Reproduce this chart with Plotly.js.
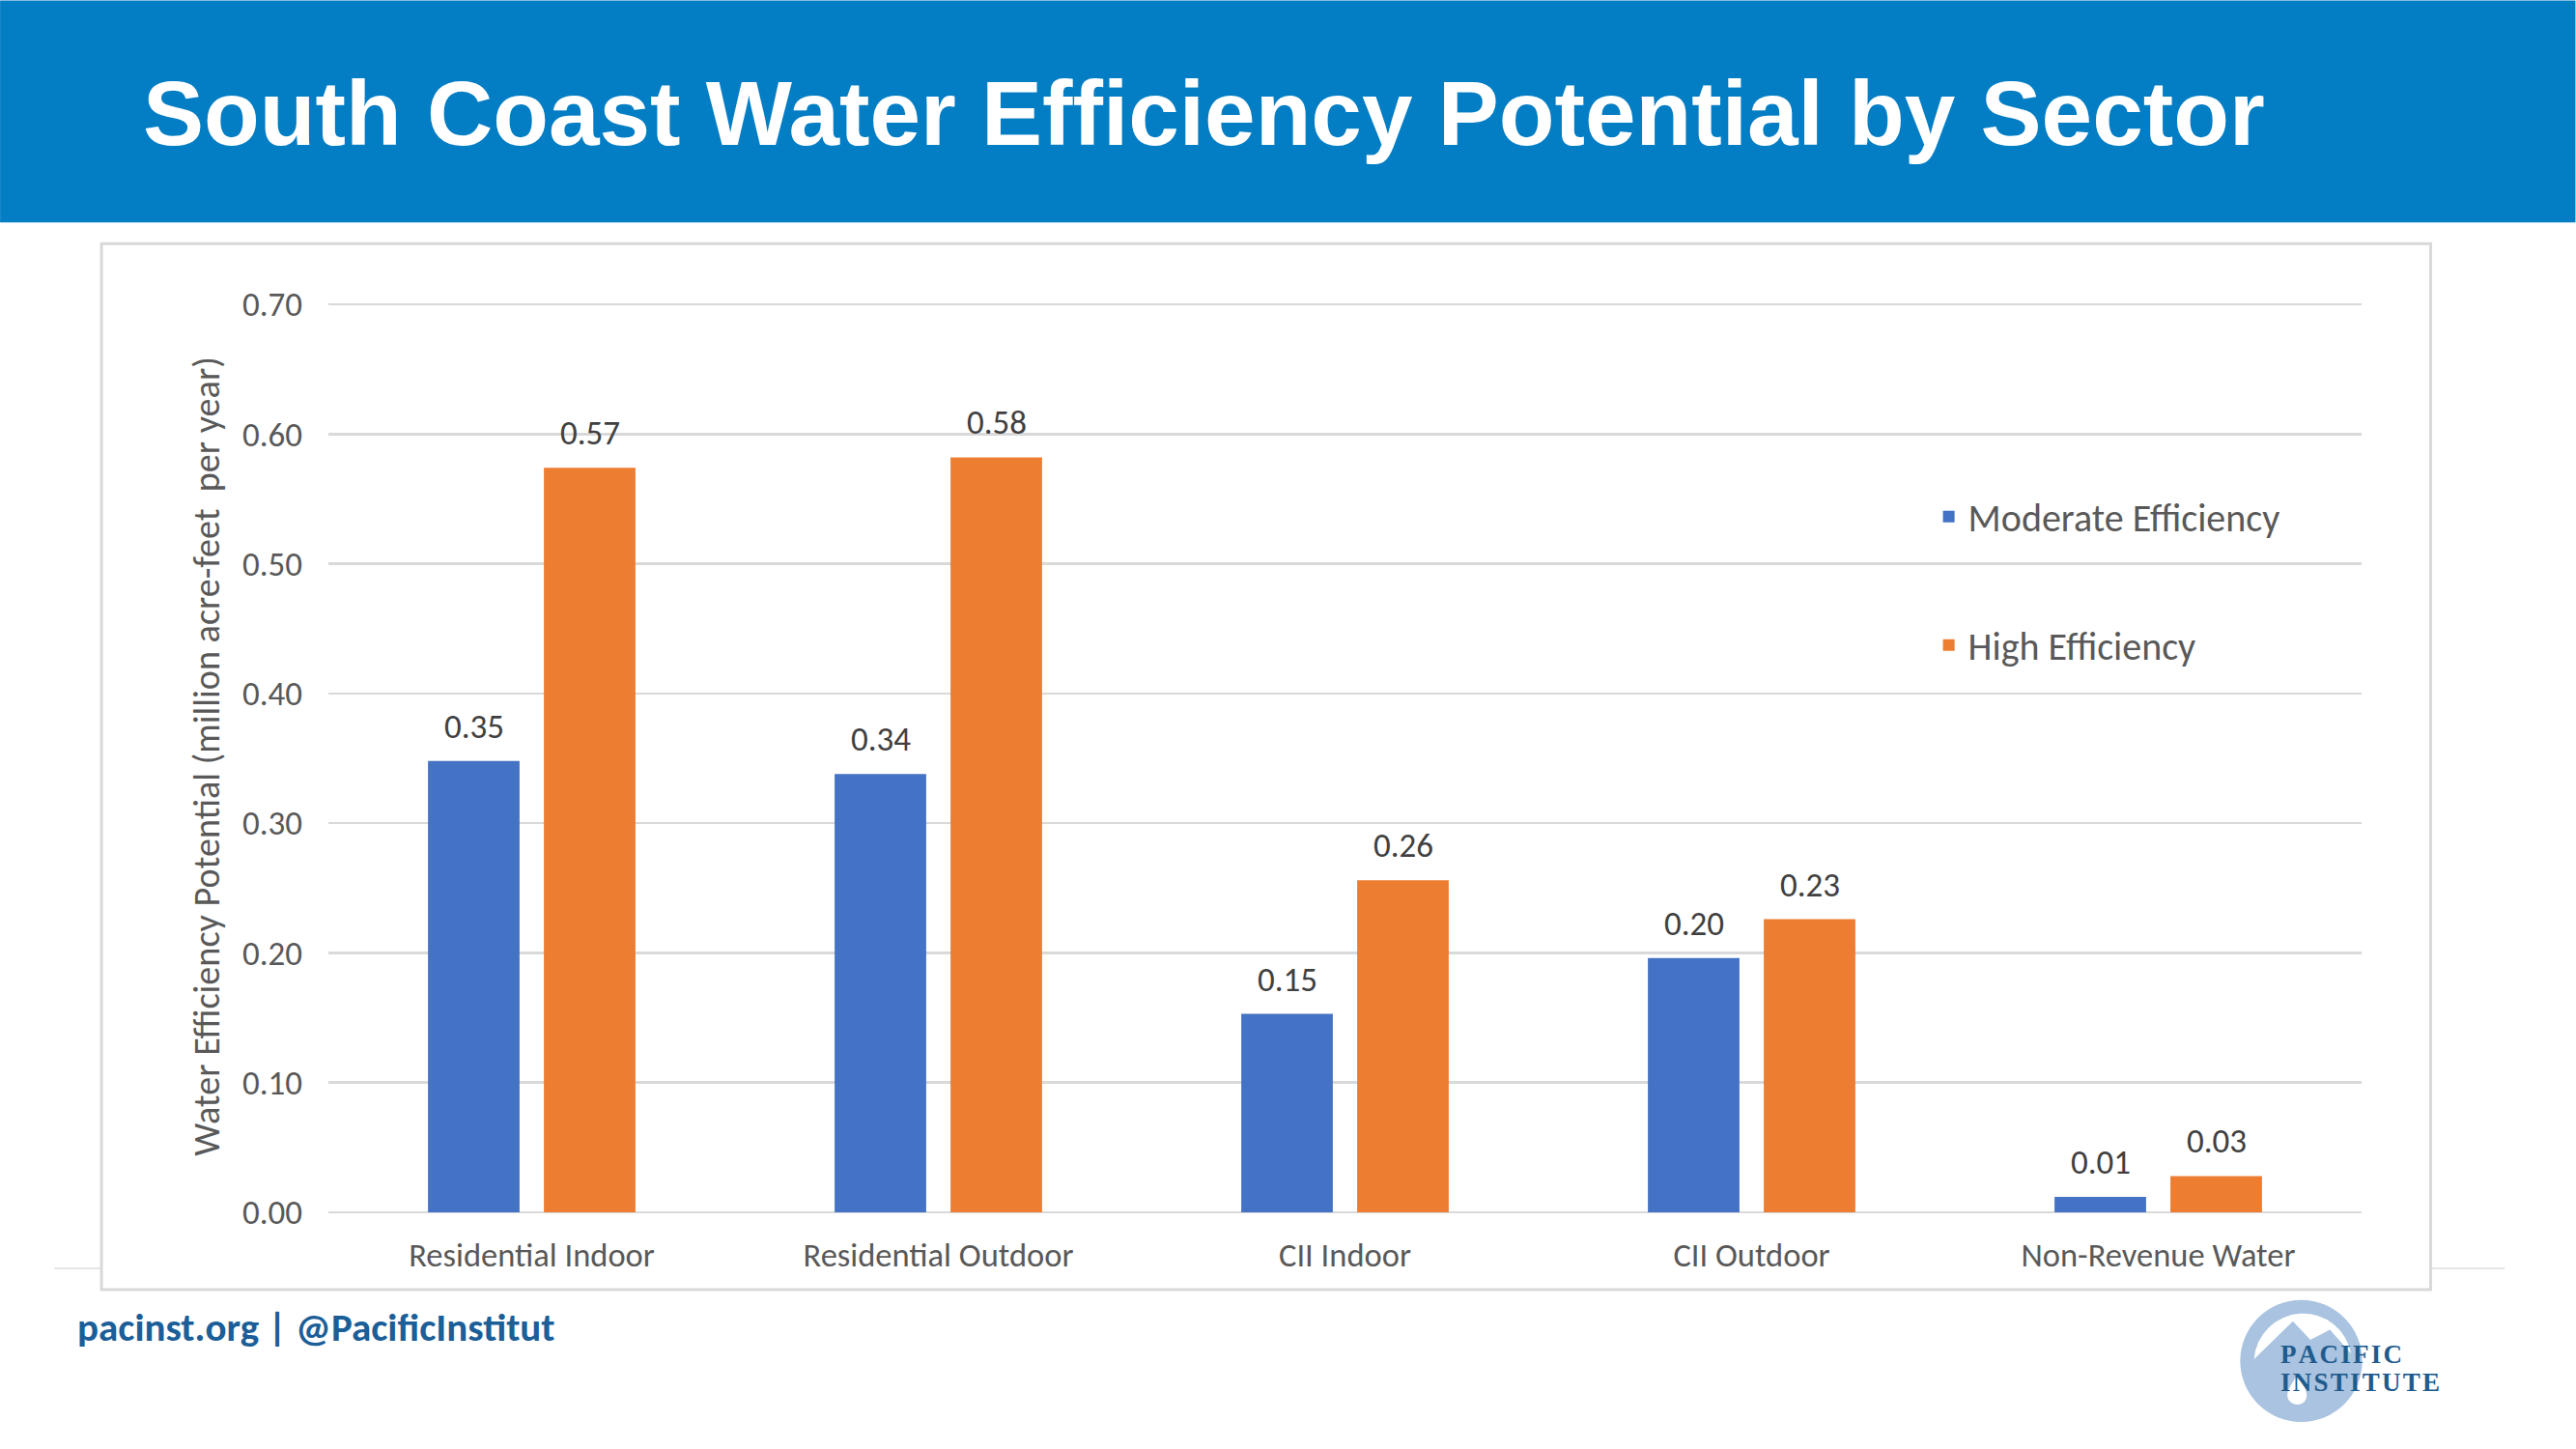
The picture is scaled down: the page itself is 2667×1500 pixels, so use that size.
<!DOCTYPE html>
<html>
<head>
<meta charset="utf-8">
<script src="https://cdn.plot.ly/plotly-3.0.1.min.js"></script>
<style>
  html, body { margin: 0; padding: 0; background: #ffffff; }
  #chart { width: 2667px; height: 1500px; }
</style>
</head>
<body>
<div id="chart"></div>
<script>
// values (million acre-feet per year)
const sectors = ["Residential Indoor", "Residential Outdoor", "CII Indoor", "CII Outdoor", "Non-Revenue Water"];
const moderate = [0.348, 0.338, 0.153, 0.196, 0.012];
const high = [0.574, 0.582, 0.256, 0.226, 0.028];
const yTicks = [0, 0.1, 0.2, 0.3, 0.4, 0.5, 0.6, 0.7];

const W = 2667, H = 1500;
// range runs a hair past 0.70 so the top gridline is not clipped
const Y_MAX = 0.703;
const M = { l: 340, r: 221.5, t: 1255 - Y_MAX * 1343.3, b: 245 };
const PW = W - M.l - M.r, PH = H - M.t - M.b;

// slide pixels -> paper coordinates (for decoration only)
const px = x => (x - M.l) / PW;
const py = y => (H - M.b - y) / PH;

const FONT = "Carlito, Lato, 'Open Sans', sans-serif";
const SERIF = "'Liberation Serif', 'DejaVu Serif', serif";
const BLUE = "#4472C4", ORANGE = "#ED7D31";

// spread the logo letters a little
const spaced = s => s.split("").join("\u200A");

function barTrace(name, values, color) {
    return {
        type: "bar", name, x: sectors, y: values,
        legendgroup: name,
        marker: { color },
        hoverinfo: "x+y+name"
    };
}

// value labels above each bar, offset to its slot in the group
function valueLabels(values, shift) {
    return values.map((v, i) => ({
        x: sectors[i], y: v, xref: "x", yref: "y",
        text: v.toFixed(2), showarrow: false,
        xshift: shift, yshift: 36, yanchor: "middle",
        font: { family: FONT, size: 35, color: "#404040" }
    }));
}

const logoSvg =
    "<svg xmlns='http://www.w3.org/2000/svg' width='140' height='140' viewBox='0 0 140 140'>" +
    "<circle cx='70' cy='70' r='66' fill='#a9c3e0'/>" +
    "<path d='M19,68 L61,27 L80,47 L101,36 L124,62 A53,53 0 0 0 19,68 Z' fill='#ffffff'/>" +
    "<path d='M66,84 C60,95 55,101 55,107 C55,113 60,117 66,117 C72,117 76,113 76,107 C76,101 71,95 66,84 Z' fill='#ffffff'/>" +
    "</svg>";

const layout = {
    width: W, height: H,
    margin: M,
    paper_bgcolor: "#ffffff",
    plot_bgcolor: "rgba(0,0,0,0)",
    font: { family: FONT, color: "#595959", size: 34 },
    title: {
        text: "South Coast Water Efficiency Potential by Sector",
        xref: "container", yref: "container",
        x: 148 / W, xanchor: "left",
        y: 1 - 117 / H, yanchor: "middle",
        font: { family: "'Liberation Sans', Arial, sans-serif", size: 94.5, color: "#ffffff", weight: "bold" }
    },
    barmode: "group",
    bargap: 0.43,
    bargroupgap: 0.21,
    showlegend: true,
    legend: {
        x: px(1998), y: py(502), xanchor: "left", yanchor: "top",
        bgcolor: "rgba(0,0,0,0)",
        font: { family: FONT, size: 40, color: "#595959" },
        traceorder: "grouped",
        tracegroupgap: 78
    },
    xaxis: {
        type: "category",
        showgrid: false,
        showline: false,
        ticks: "",
        ticklabelstandoff: 20,
        tickfont: { family: FONT, size: 34.5, color: "#595959" }
    },
    yaxis: {
        range: [0, Y_MAX],
        tickvals: yTicks,
        tickformat: ".2f",
        showgrid: true,
        gridcolor: "#d9d9d9",
        gridwidth: 2.5,
        zeroline: true,
        zerolinecolor: "#d9d9d9",
        zerolinewidth: 2.5,
        ticks: "",
        ticklabelstandoff: 26,
        tickfont: { family: FONT, size: 35, color: "#595959" },
        title: {
            text: "Water Efficiency Potential (million acre-feet  per year)",
            standoff: 11,
            font: { family: FONT, size: 38.2, color: "#595959" }
        }
    },
    shapes: [
        // header band
        { type: "rect", xref: "paper", yref: "paper", layer: "below",
          x0: px(0), x1: px(W), y0: py(0), y1: py(230),
          fillcolor: "#037dc4", line: { width: 0 } },
        // thin slide rule behind the chart box
        { type: "line", xref: "paper", yref: "paper", layer: "below",
          x0: px(56), x1: px(2594), y0: py(1313), y1: py(1313),
          line: { color: "#e6e6e6", width: 2 } },
        // chart box
        { type: "rect", xref: "paper", yref: "paper", layer: "below",
          x0: px(105), x1: px(2517), y0: py(252), y1: py(1335),
          fillcolor: "#ffffff", line: { color: "#d9d9d9", width: 3 } }
    ],
    images: [
        { source: "data:image/svg+xml;charset=utf-8," + encodeURIComponent(logoSvg),
          xref: "paper", yref: "paper",
          x: px(2316), y: py(1342), sizex: 134 / PW, sizey: 134 / PH,
          xanchor: "left", yanchor: "top", sizing: "stretch", layer: "above" }
    ],
    annotations: [
        ...valueLabels(moderate, -60),
        ...valueLabels(high, 60),
        { text: "pacinst.org | @PacificInstitut", xref: "paper", yref: "paper",
          x: px(78), y: py(1374), xanchor: "left", yanchor: "middle", showarrow: false,
          font: { family: FONT, size: 41, color: "#1b5e98", weight: "bold" } },
        { text: spaced("PACIFIC"), xref: "paper", yref: "paper",
          x: px(2359), y: py(1402), xanchor: "left", yanchor: "middle", showarrow: false,
          font: { family: SERIF, size: 27, color: "#1f5b8e", weight: "bold" } },
        { text: spaced("INSTITUTE"), xref: "paper", yref: "paper",
          x: px(2359), y: py(1431), xanchor: "left", yanchor: "middle", showarrow: false,
          font: { family: SERIF, size: 27, color: "#1f5b8e", weight: "bold" } }
    ]
};

Plotly.newPlot(
    "chart",
    [barTrace("Moderate Efficiency", moderate, BLUE), barTrace("High Efficiency", high, ORANGE)],
    layout,
    { displayModeBar: false, staticPlot: true }
);
</script>
</body>
</html>
